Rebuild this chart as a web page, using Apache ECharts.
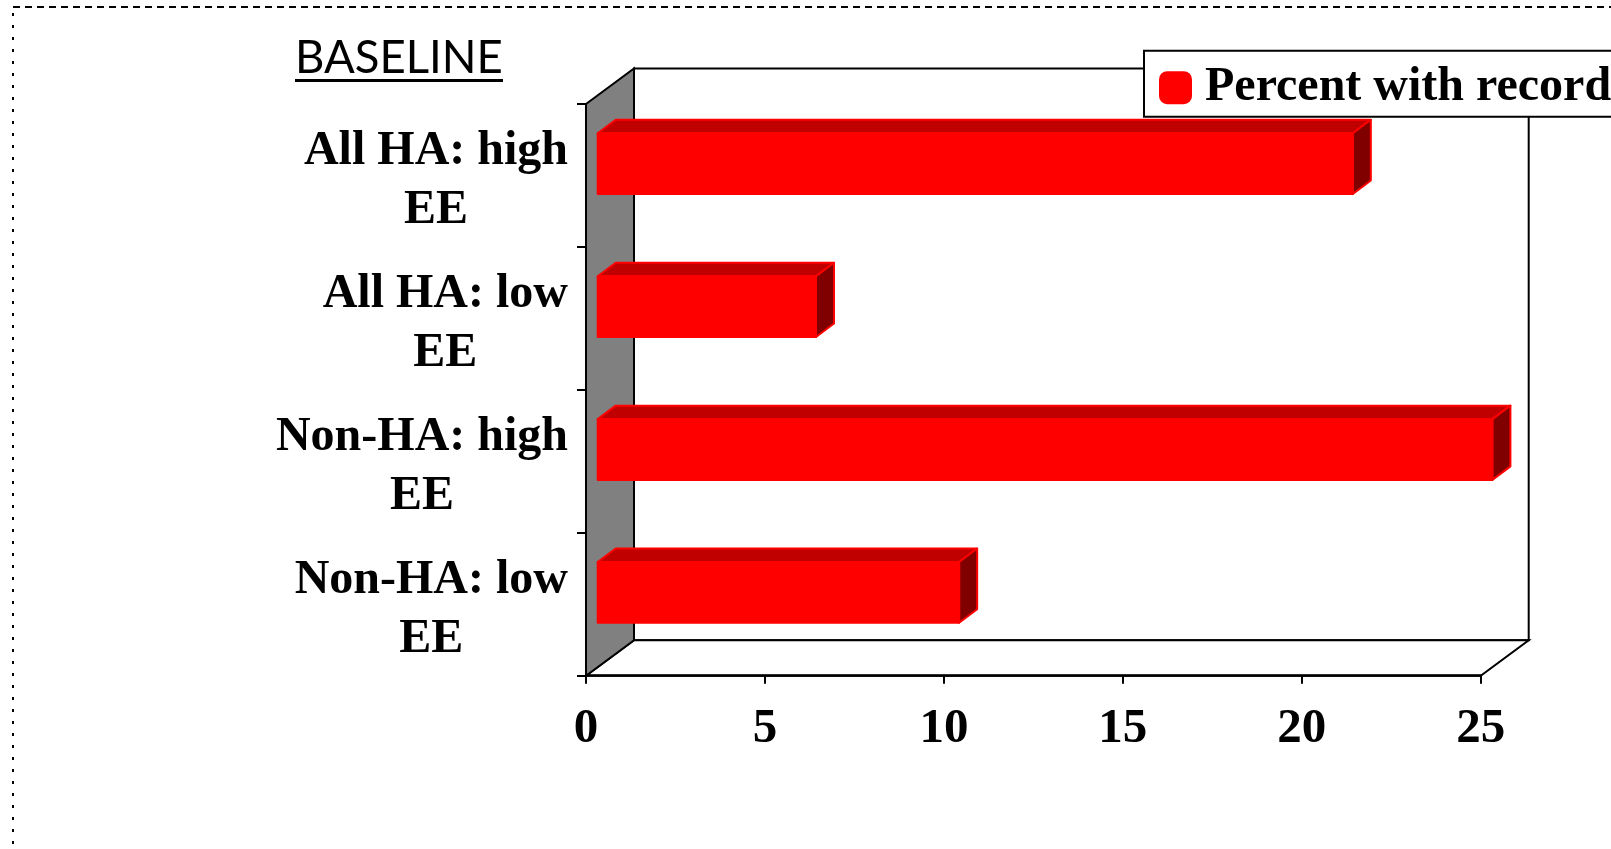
<!DOCTYPE html>
<html><head><meta charset="utf-8">
<script src="https://cdn.jsdelivr.net/npm/echarts@6/dist/echarts.min.js"></script>
<style>html,body{margin:0;padding:0;background:#fff;overflow:hidden}#c{width:1611px;height:849px;}</style>
</head><body><div id="c"></div>
<script>
// ---- data ----
const categories = ['All HA: high\nEE', 'All HA: low\nEE', 'Non-HA: high\nEE', 'Non-HA: low\nEE'];
const values = [21.1, 6.1, 25.0, 10.1];
const seriesName = 'Percent with record';
const titleText = 'BASELINE';
const xMin = 0, xMax = 25, xInterval = 5;

// ---- style constants ----
const SERIF = '"Liberation Serif", "Times New Roman", serif';
const WALL_DX = 48, WALL_DY = -35.5;
const BAR_OX = 11.7, BAR_OY = -11.8, BAR_DX = 18, BAR_DY = -13.5, BAR_FRAC = 0.425;

const chart = echarts.init(document.getElementById('c'), null, {renderer: 'canvas'});

function wallsRender(params, api) {
  const cs = params.coordSys;
  const x = cs.x, y = cs.y, w = cs.width, h = cs.height;
  const line = {stroke: '#000', lineWidth: 2, lineJoin: 'miter'};
  return {
    type: 'group',
    children: [
      {type: 'polygon', shape: {points: [[x + WALL_DX, y + WALL_DY], [x + w + WALL_DX, y + WALL_DY], [x + w + WALL_DX, y + h + WALL_DY], [x + WALL_DX, y + h + WALL_DY]]},
        style: Object.assign({fill: '#fff'}, line)},
      {type: 'polygon', shape: {points: [[x, y + h], [x + w, y + h], [x + w + WALL_DX, y + h + WALL_DY], [x + WALL_DX, y + h + WALL_DY]]},
        style: Object.assign({fill: '#fff'}, line)},
      {type: 'polygon', shape: {points: [[x, y], [x + WALL_DX, y + WALL_DY], [x + WALL_DX, y + h + WALL_DY], [x, y + h]]},
        style: Object.assign({fill: '#808080'}, line)}
    ]
  };
}

function barRender(params, api) {
  const v = api.value(0), idx = api.value(1);
  const p0 = api.coord([0, idx]);
  const p1 = api.coord([v, idx]);
  const band = api.size([0, 1])[1];
  const h = band * BAR_FRAC;
  const x0 = p0[0] + BAR_OX, x1 = p1[0] + BAR_OX;
  const yt = p0[1] + BAR_OY - h / 2, yb = yt + h;
  const st = {stroke: '#FF0000', lineWidth: 2, lineJoin: 'round'};
  return {
    type: 'group',
    children: [
      {type: 'polygon', shape: {points: [[x0, yt], [x1, yt], [x1 + BAR_DX, yt + BAR_DY], [x0 + BAR_DX, yt + BAR_DY]]},
        style: Object.assign({fill: '#C00000'}, st)},
      {type: 'polygon', shape: {points: [[x1, yt], [x1 + BAR_DX, yt + BAR_DY], [x1 + BAR_DX, yb + BAR_DY], [x1, yb]]},
        style: Object.assign({fill: '#800000'}, st)},
      {type: 'rect', shape: {x: x0, y: yt, width: x1 - x0, height: h},
        style: Object.assign({fill: '#FF0000'}, st)}
    ]
  };
}

const option = {
  animation: false,
  backgroundColor: '#fff',
  title: {
    text: titleText, left: 295, top: 35, padding: 0,
    textStyle: {fontFamily: 'Lato', fontWeight: 'normal', fontSize: 45.5, color: '#000'}
  },
  legend: {
    data: [seriesName], left: 1144, top: 50.7, orient: 'horizontal',
    padding: [11, 30, 3, 15], itemWidth: 33, itemHeight: 33, icon: 'roundRect',
    borderColor: '#000', borderWidth: 2, backgroundColor: '#fff', borderRadius: 0, z: 10,
    selectedMode: false,
    textStyle: {fontFamily: SERIF, fontWeight: 'bold', fontSize: 48, color: '#000', lineHeight: 48, padding: [4, 0, 0, 8]}
  },
  graphic: [
    {type: 'rect', shape: {x: 295, y: 79, width: 208, height: 3}, style: {fill: '#000'}, silent: true},
    {type: 'line', shape: {x1: 13, y1: 7, x2: 1611, y2: 7}, style: {stroke: '#000', lineWidth: 2, lineDash: [7, 5]}, silent: true},
    {type: 'line', shape: {x1: 13, y1: 13, x2: 13, y2: 849}, style: {stroke: '#000', lineWidth: 2, lineDash: [3, 9]}, silent: true}
  ],
  grid: {left: 586, top: 104, width: 894.7, height: 571.7, containLabel: false},
  xAxis: {
    type: 'value', min: xMin, max: xMax, interval: xInterval, z: 5,
    axisLine: {show: true, lineStyle: {color: '#000', width: 2.5}},
    axisTick: {show: true, length: 8, lineStyle: {color: '#000', width: 2}},
    axisLabel: {margin: 29, fontFamily: SERIF, fontWeight: 'bold', fontSize: 49, color: '#000'},
    splitLine: {show: false}
  },
  yAxis: {
    type: 'category', data: categories, inverse: true, z: 5,
    axisLine: {show: true, lineStyle: {color: '#000', width: 2}},
    axisTick: {show: true, length: 9, interval: 0, lineStyle: {color: '#000', width: 2}},
    axisLabel: {
      interval: 0, margin: 18, padding: [12, 0, 0, 0],
      formatter: function (val) { return val.split('\n').map(function (s) { return '{a|' + s + '}'; }).join('\n'); },
      rich: {a: {align: 'center', fontFamily: SERIF, fontWeight: 'bold', fontSize: 48, lineHeight: 59, color: '#000'}}
    },
    splitLine: {show: false}
  },
  series: [
    {type: 'custom', name: '_walls', z: 1, silent: true, clip: false, renderItem: wallsRender, data: [[0, 0]]},
    {type: 'custom', name: seriesName, z: 2, silent: true, clip: false, renderItem: barRender,
      itemStyle: {color: '#FF0000'},
      data: values.map(function (v, i) { return [v, i]; })}
  ]
};
chart.setOption(option);
</script>
</body></html>
